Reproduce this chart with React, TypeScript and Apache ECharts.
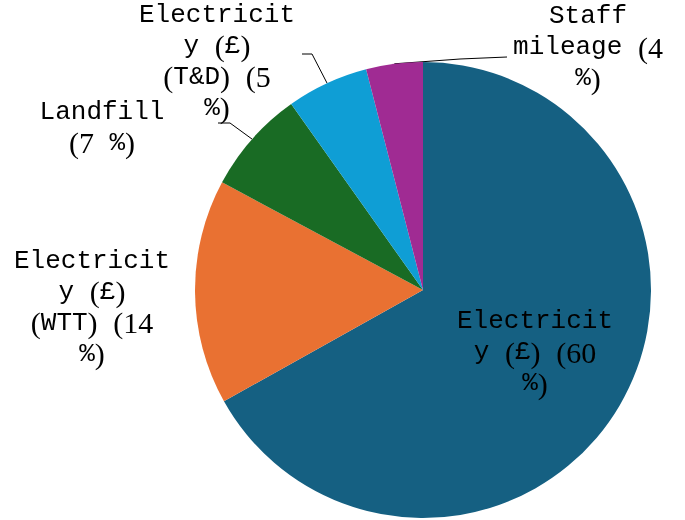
import React, { useEffect, useRef } from "react";
import * as echarts from "echarts";

const categories = [
  "Electricity (£)",
  "Electricity (£) (WTT)",
  "Landfill",
  "Electricity (£) (T&D)",
  "Staff mileage",
];
const values = [60, 14.3, 6.6, 5.2, 3.6];
const colors = ["#156082", "#E97132", "#196B24", "#0F9ED5", "#A02B93"];

// label block centres and label-line elbows
const labelCenters: [number, number][] = [
  [535, 352],
  [92, 307],
  [102, 127],
  [217, 61],
  [588, 47],
];
const lineElbows: ([number, number][] | null)[] = [
  null,
  null,
  [[230, 123], [218, 123]],
  [[312, 54], [302, 54]],
  [[460, 59], [507, 57]],
];

const MAX_CHARS = 10;

function wrap(text: string): string[] {
  const words = text.split(" ");
  const lines: string[] = [];
  let cur = "";
  for (let w of words) {
    while (w.length > MAX_CHARS && cur === "") {
      lines.push(w.slice(0, MAX_CHARS));
      w = w.slice(MAX_CHARS);
    }
    if (cur === "") {
      cur = w;
    } else if ((cur + " " + w).length <= MAX_CHARS) {
      cur = cur + " " + w;
    } else {
      lines.push(cur);
      cur = w;
      while (cur.length > MAX_CHARS) {
        lines.push(cur.slice(0, MAX_CHARS));
        cur = cur.slice(MAX_CHARS);
      }
    }
  }
  if (cur) lines.push(cur);
  return lines;
}

function richLine(line: string): string {
  let out = "";
  let buf = "";
  let mode: "m" | "s" | "" = "";
  const flush = () => {
    if (buf) out += `{${mode}|${buf}}`;
    buf = "";
  };
  for (const ch of line) {
    const m = /[()0-9]/.test(ch) ? "s" : "m";
    if (m !== mode) {
      flush();
      mode = m;
    }
    buf += ch;
  }
  flush();
  return out;
}

export default function App() {
  const ref = useRef<HTMLDivElement>(null);
  useEffect(() => {
    if (!ref.current) return;
    const chart = echarts.init(ref.current, null, { renderer: "svg" });
    chart.setOption({
      animation: false,
      series: [
        {
          type: "pie",
          center: [423, 290],
          radius: 228,
          startAngle: 90,
          clockwise: true,
          avoidLabelOverlap: false,
          itemStyle: { borderWidth: 0 },
          label: {
            show: true,
            position: "outside",
            formatter: (p: any) =>
              wrap(`${p.name} (${Math.round(p.value)} %)`)
                .map(richLine)
                .join("\n"),
            color: "#000",
            align: "center",
            lineHeight: 31,
            rich: {
              m: {
                fontFamily: "'Courier New', 'Liberation Mono', monospace",
                fontSize: 26,
                color: "#000",
                lineHeight: 31,
              },
              s: {
                fontFamily: "'Liberation Serif', 'Times New Roman', serif",
                fontSize: 30,
                color: "#000",
                lineHeight: 31,
              },
            },
          },
          labelLine: {
            show: true,
            length: 30,
            length2: 10,
            smooth: false,
            lineStyle: { color: "#000", width: 1 },
          },
          labelLayout: (params: any) => {
            const i = params.dataIndex;
            const [x, y] = labelCenters[i];
            const res: any = { x, y, align: "center", verticalAlign: "middle" };
            const el = lineElbows[i];
            if (el && params.labelLinePoints) {
              res.labelLinePoints = [params.labelLinePoints[0], el[0], el[1]];
            }
            return res;
          },
          data: categories.map((name, i) => ({
            name,
            value: values[i],
            itemStyle: { color: colors[i] },
            labelLine: { show: lineElbows[i] !== null },
          })),
        },
      ],
    });
    return () => chart.dispose();
  }, []);
  return (
    <div
      ref={ref}
      style={{ position: "fixed", left: 0, top: 0, width: 685, height: 520 }}
    />
  );
}
